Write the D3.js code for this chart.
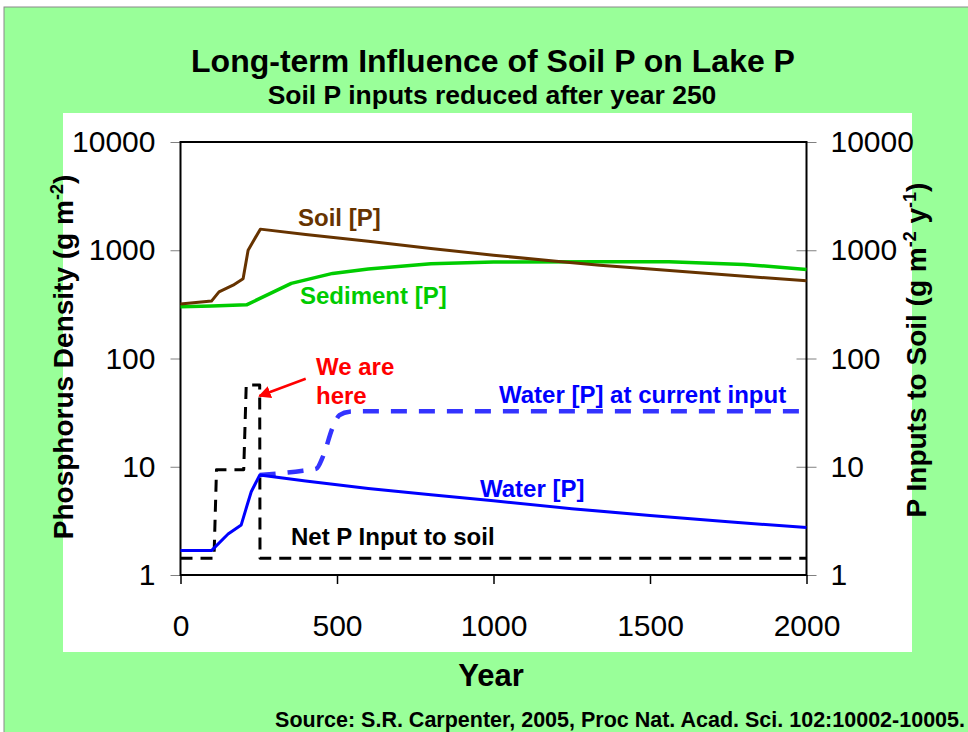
<!DOCTYPE html>
<html>
<head>
<meta charset="utf-8">
<script src="https://cdn.jsdelivr.net/npm/d3@7"></script>
<style>
body { margin: 0; background: #fff; }
svg { display: block; font-family: "Liberation Sans", Arial, sans-serif; }
</style>
</head>
<body>
<svg id="chart" width="968" height="732"></svg>
<script>
// values (years, g m-2 / g m-2 y-1)
const xTicks = [0, 500, 1000, 1500, 2000];
const yTicks = [1, 10, 100, 1000, 10000];

const soilYears = [0, 99, 123, 168, 200, 216, 255, 400, 600, 800, 1000, 1200, 1340, 1500, 1750, 2000];
const soilP = [318, 339, 413, 476, 545, 1000, 1567, 1400, 1210, 1040, 900, 790, 728, 670, 590, 522];

const sedYears = [0, 100, 211, 354, 486, 600, 800, 1000, 1340, 1560, 1800, 2000];
const sedimentP = [300, 305, 313, 494, 611, 670, 750, 780, 785, 781, 740, 665];

const waterYears = [0, 99, 152, 194, 213, 226, 253, 400, 600, 800, 1000, 1250, 1500, 1750, 2000];
const waterP = [1.68, 1.68, 2.39, 2.9, 4.43, 5.87, 8.38, 7.4, 6.3, 5.5, 4.85, 4.1, 3.55, 3.1, 2.75];

const currentYears = [253, 391, 434, 455, 487, 508, 540, 580, 2000];
const waterCurrentP = [8.38, 9.2, 9.6, 12.4, 23.4, 30, 32.3, 32.5, 32.5];

const netYears = [0, 107, 115, 202, 210, 253, 254, 2000];
const netInput = [1.43, 1.43, 9.4, 9.4, 57, 57, 1.43, 1.43];

function zip(xs, ys) {
    return xs.map((d, i) => ({ year: d, v: ys[i] }));
}

function render() {
    let svg = d3.select("#chart");

    // slide background
    svg.append("rect")
        .attr("x", 4).attr("y", 7)
        .attr("width", 970).attr("height", 730)
        .attr("fill", "#99ff99")
        .attr("stroke", "#8a8a8a");

    svg.append("rect")
        .attr("x", 63).attr("y", 113)
        .attr("width", 849).attr("height", 539)
        .attr("fill", "#fff");

    svg.append("text")
        .attr("x", 493).attr("y", 72)
        .attr("font-size", "32px").attr("font-weight", "bold")
        .style("text-anchor", "middle")
        .text("Long-term Influence of Soil P on Lake P");

    svg.append("text")
        .attr("x", 492).attr("y", 104)
        .attr("font-size", "26.5px").attr("font-weight", "bold")
        .style("text-anchor", "middle")
        .text("Soil P inputs reduced after year 250");

    let xScale = d3.scaleLinear().domain([0, 2000]).range([180.5, 806.5]);
    let yScale = d3.scaleLog().domain([1, 10000]).range([575, 142]);

    // axes
    let left = svg.append("g")
        .attr("transform", "translate(180.5,0)")
        .call(d3.axisLeft(yScale).tickValues(yTicks).tickFormat(d3.format("d")).tickSize(10).tickPadding(15));

    let right = svg.append("g")
        .attr("transform", "translate(806.5,0)")
        .call(d3.axisRight(yScale).tickValues(yTicks).tickFormat(d3.format("d")).tickSize(10).tickPadding(14));
    right.selectAll(".tick line").attr("x1", -10);

    let bottom = svg.append("g")
        .attr("transform", "translate(0,575)")
        .call(d3.axisBottom(xScale).tickValues(xTicks).tickFormat(d3.format("d")).tickSize(9).tickPadding(31));

    [left, right, bottom].forEach(g => {
        g.select(".domain").remove();
        g.attr("font-family", null).attr("font-size", null);
        g.selectAll("text").attr("font-size", "30px").attr("fill", "#000");
    });
    left.selectAll(".tick line").attr("stroke", "#808080");
    right.selectAll(".tick line").attr("stroke", "#808080");
    bottom.selectAll(".tick line").attr("stroke", "#000").attr("stroke-width", 1.5);

    // plot frame
    svg.append("rect")
        .attr("x", 180.5).attr("y", 142)
        .attr("width", 626).attr("height", 433)
        .attr("fill", "none")
        .attr("stroke", "#000")
        .attr("stroke-width", 2);

    let line = d3.line().x(d => xScale(d.year)).y(d => yScale(d.v));
    let smooth = d3.line().x(d => xScale(d.year)).y(d => yScale(d.v)).curve(d3.curveMonotoneX);

    let series = [
        { data: zip(sedYears, sedimentP), color: "#00cc00", w: 3.5, dash: null, gen: line },
        { data: zip(soilYears, soilP), color: "#663300", w: 3, dash: null, gen: line },
        { data: zip(netYears, netInput), color: "#000", w: 3, dash: "12,8", gen: line },
        { data: zip(currentYears, waterCurrentP), color: "#3333ff", w: 4.5, dash: "16,12", gen: smooth },
        { data: zip(waterYears, waterP), color: "#0000ff", w: 3, dash: null, gen: line }
    ];

    series.forEach(s => {
        svg.append("path")
            .attr("d", s.gen(s.data))
            .attr("fill", "none")
            .attr("stroke", s.color)
            .attr("stroke-width", s.w)
            .attr("stroke-dasharray", s.dash)
            .attr("stroke-linejoin", "round");
    });

    // series labels
    let labels = [
        { t: "Soil [P]", x: 298, y: 226, c: "#663300" },
        { t: "Sediment [P]", x: 300, y: 304, c: "#00cc00" },
        { t: "We are", x: 316, y: 375, c: "#ff0000" },
        { t: "here", x: 316, y: 404, c: "#ff0000" },
        { t: "Water [P] at current input", x: 499, y: 403, c: "#0000ff" },
        { t: "Water [P]", x: 480, y: 497, c: "#0000ff" },
        { t: "Net P Input to soil", x: 291, y: 545, c: "#000" }
    ];
    svg.selectAll(".lbl")
        .data(labels)
        .enter()
        .append("text")
        .attr("x", d => d.x)
        .attr("y", d => d.y)
        .attr("font-size", "24px")
        .attr("font-weight", "bold")
        .attr("fill", d => d.c)
        .text(d => d.t);

    // red arrow
    svg.append("defs").append("marker")
        .attr("id", "head")
        .attr("viewBox", "0 0 10 10")
        .attr("refX", 9).attr("refY", 5)
        .attr("markerWidth", 5).attr("markerHeight", 5)
        .attr("orient", "auto")
        .append("path")
        .attr("d", "M0,0L10,5L0,10z")
        .attr("fill", "#ff0000");

    svg.append("line")
        .attr("x1", xScale(400)).attr("y1", yScale(65))
        .attr("x2", xScale(252)).attr("y2", yScale(45))
        .attr("stroke", "#ff0000")
        .attr("stroke-width", 2.5)
        .attr("marker-end", "url(#head)");

    // axis titles
    svg.append("text")
        .attr("transform", "translate(73,357) rotate(-90)")
        .attr("font-size", "28px").attr("font-weight", "bold")
        .style("text-anchor", "middle")
        .html('Phosphorus Density (g m<tspan dy="-10" font-size="18px">-2</tspan><tspan dy="10">)</tspan>');

    svg.append("text")
        .attr("transform", "translate(926,350) rotate(-90)")
        .attr("font-size", "28px").attr("font-weight", "bold")
        .style("text-anchor", "middle")
        .html('P Inputs to Soil (g m<tspan dy="-10" font-size="18px">-2</tspan><tspan dy="10"> y</tspan><tspan dy="-10" font-size="18px">-1</tspan><tspan dy="10">)</tspan>');

    svg.append("text")
        .attr("x", 491).attr("y", 686)
        .attr("font-size", "31px").attr("font-weight", "bold")
        .style("text-anchor", "middle")
        .text("Year");

    svg.append("text")
        .attr("x", 965).attr("y", 727)
        .attr("font-size", "21.5px").attr("font-weight", "bold")
        .style("text-anchor", "end")
        .text("Source: S.R. Carpenter, 2005, Proc Nat. Acad. Sci. 102:10002-10005.");
}

render();
</script>
</body>
</html>
